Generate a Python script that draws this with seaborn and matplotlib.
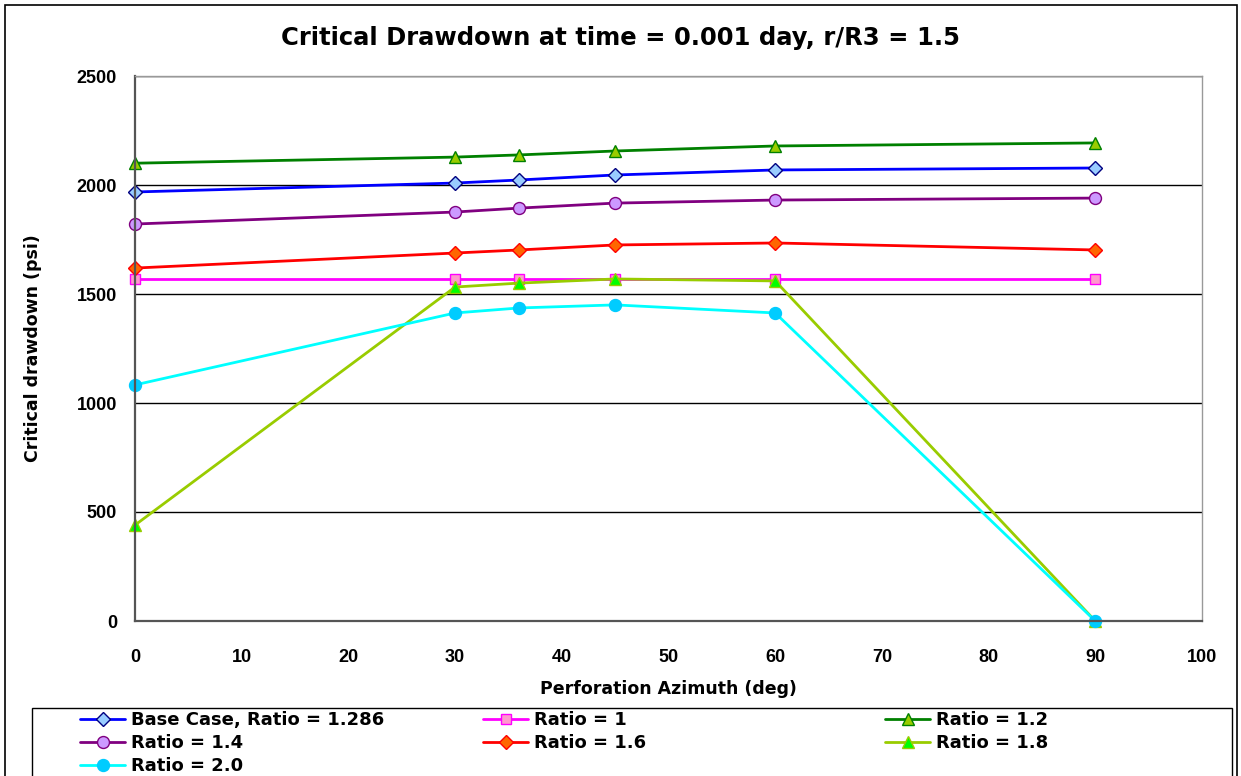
import matplotlib
matplotlib.use("Agg")
import matplotlib.pyplot as plt
import seaborn as sns
import pandas as pd
from matplotlib.patches import Rectangle

# data
azimuth = [0, 30, 36, 45, 60, 90]
base_case = [1968, 2009, 2023, 2046, 2069, 2078]
ratio_1 = [1569, 1569, 1569, 1569, 1569, 1569]
ratio_12 = [2100, 2128, 2138, 2156, 2179, 2193]
ratio_14 = [1821, 1876, 1894, 1917, 1931, 1940]
ratio_16 = [1619, 1688, 1702, 1725, 1734, 1702]
ratio_18 = [440, 1532, 1550, 1569, 1560, 0]
ratio_20 = [1083, 1413, 1436, 1450, 1413, 0]

labels = ["Base Case, Ratio = 1.286", "Ratio = 1", "Ratio = 1.2", "Ratio = 1.4",
          "Ratio = 1.6", "Ratio = 1.8", "Ratio = 2.0"]
series = [base_case, ratio_1, ratio_12, ratio_14, ratio_16, ratio_18, ratio_20]

# line colour, marker, face colour, edge colour
styles = [
    ("#0000FF", "D", "#99CCFF", "#000080"),
    ("#FF00FF", "s", "#FF99CC", "#FF00FF"),
    ("#008000", "^", "#99CC00", "#008000"),
    ("#800080", "o", "#CC99FF", "#800080"),
    ("#FF0000", "D", "#FF6600", "#FF0000"),
    ("#99CC00", "^", "#00FF00", "#99CC00"),
    ("#00FFFF", "o", "#00CCFF", "#00CCFF"),
]

df = pd.DataFrame({
    "azimuth": azimuth * len(series),
    "drawdown": [v for s in series for v in s],
    "case": [lab for lab in labels for _ in azimuth],
})

sns.set_style("white")
plt.rcParams["font.family"] = ["Liberation Sans", "DejaVu Sans"]
plt.rcParams.update({"text.color": "black", "axes.labelcolor": "black",
                     "xtick.color": "black", "ytick.color": "black"})
wide = ["DejaVu Sans"]

W, H = 1241, 776
fig = plt.figure(figsize=(W / 100, H / 100), dpi=100)
ax = fig.add_axes([135 / W, 1 - 621 / H, (1202 - 135) / W, (621 - 76) / H])

handles = []
for lab, (lc, mk, fc, ec) in zip(labels, styles):
    ms = 7.0 if mk == "D" else (7.8 if mk == "s" else 8.6)
    sns.lineplot(data=df[df["case"] == lab], x="azimuth", y="drawdown", ax=ax,
                 color=lc, marker=mk, markersize=ms, markerfacecolor=fc,
                 markeredgecolor=ec, markeredgewidth=1.0, linewidth=2.0,
                 label=lab, legend=False, clip_on=False)
    handles.append(ax.lines[-1])

ax.set_xlim(0, 100)
ax.set_ylim(0, 2500)
ax.set_xticks(range(0, 101, 10))
ax.set_yticks(range(0, 2501, 500))
ax.yaxis.grid(True, color="black", linewidth=1.0)
ax.set_axisbelow(True)
ax.tick_params(axis="x", direction="in", length=5, width=1, color="#555555",
               labelsize=13, pad=20)
ax.tick_params(axis="y", length=0, labelsize=13, pad=13)
for t in ax.get_xticklabels() + ax.get_yticklabels():
    t.set_fontweight("bold")

for side in ("left", "bottom"):
    ax.spines[side].set_color("#555555")
    ax.spines[side].set_linewidth(1.6)
for side in ("top", "right"):
    ax.spines[side].set_color("#999999")
    ax.spines[side].set_linewidth(1.0)

ax.set_xlabel("Perforation Azimuth (deg)", fontsize=12.5, fontweight="bold",
              family=wide, labelpad=10)
ax.set_ylabel("Critical drawdown (psi)", fontsize=12.5, fontweight="bold",
              family=wide, labelpad=25)
fig.text(0.5, 1 - 38 / H, "Critical Drawdown at time = 0.001 day, r/R3 = 1.5",
         ha="center", va="center", fontsize=17.5, fontweight="bold", family=wide)

# outer chart border and legend box
fig.patches.append(Rectangle((5 / W, -0.1), 1232 / W, 1.1 - 5 / H,
                             transform=fig.transFigure, fill=False,
                             edgecolor="black", linewidth=1.2))
fig.patches.append(Rectangle((32 / W, -0.1), 1200 / W, 0.1 + 1 - 708 / H,
                             transform=fig.transFigure, fill=False,
                             edgecolor="black", linewidth=1.0))

# legend: three columns, filled row by row like the original
columns = [(80, [0, 3, 6]), (483, [1, 4]), (885, [2, 5])]
for x0, idx in columns:
    leg = fig.legend([handles[i] for i in idx], [labels[i] for i in idx],
                     loc="upper left", bbox_to_anchor=(x0 / W, 1 - 711 / H),
                     frameon=False, handlelength=2.5, handletextpad=0.3,
                     labelspacing=0.28, borderaxespad=0, borderpad=0,
                     prop={"weight": "bold", "size": 13, "family": wide})

fig.savefig("out.png", dpi=100)
